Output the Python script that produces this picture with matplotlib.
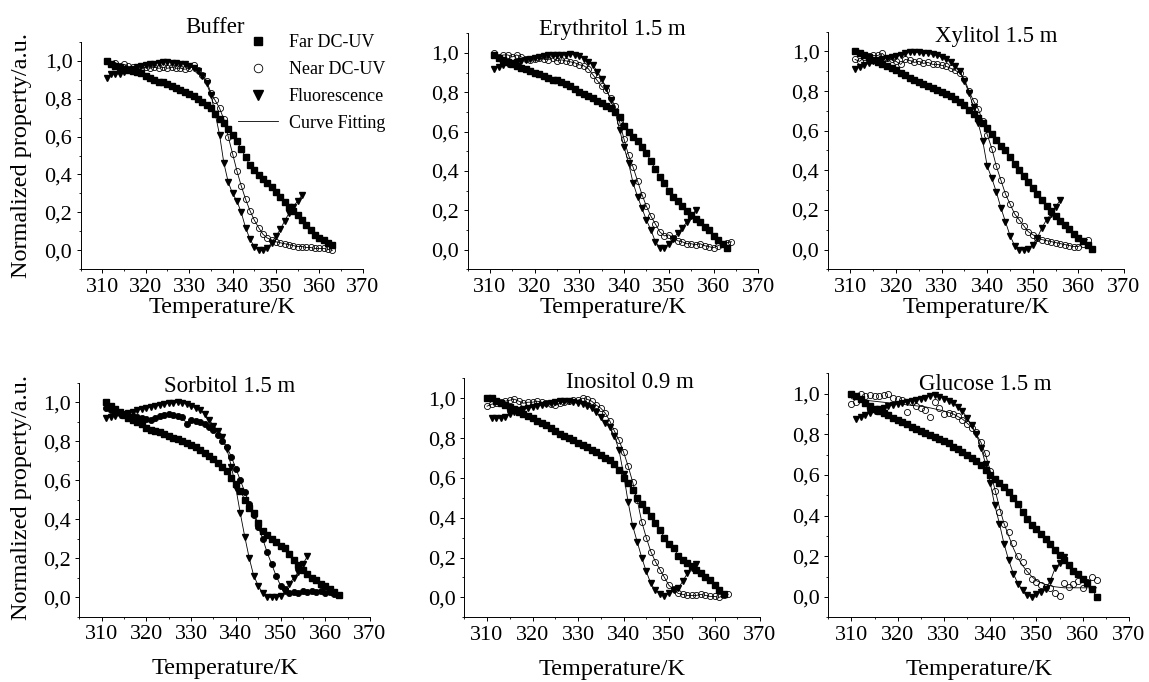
import numpy as np
import matplotlib
matplotlib.use('Agg')
from matplotlib import pyplot as plt
from matplotlib.lines import Line2D
from matplotlib.ticker import MultipleLocator, FuncFormatter

plt.rcParams['font.family'] = ['Liberation Serif', 'DejaVu Serif']

W, H = 1149, 682

titles = ['Buffer', 'Erythritol 1.5 m', 'Xylitol 1.5 m',
          'Sorbitol 1.5 m', 'Inositol 0.9 m', 'Glucose 1.5 m']

# first temperature (K) of each series, values follow in 1 K steps
far_start = [311, 311, 311, 311, 310, 310]
near_start = [311, 311, 311, 311, 310, 310]
fluo_start = [311, 311, 311, 311, 311, 311]

# ---- Buffer
buffer_far = [1.0, 0.98, 0.97, 0.965, 0.955, 0.95, 0.945, 0.94, 0.935, 0.92,
              0.91, 0.90, 0.89, 0.885, 0.875, 0.865, 0.855, 0.845, 0.835, 0.825,
              0.815, 0.80, 0.78, 0.765, 0.75, 0.72, 0.695, 0.67, 0.64, 0.61,
              0.575, 0.535, 0.49, 0.45, 0.425, 0.395, 0.375, 0.355, 0.335, 0.305,
              0.28, 0.255, 0.23, 0.21, 0.185, 0.16, 0.135, 0.105, 0.08, 0.065,
              0.055, 0.04, 0.03]
buffer_near = [1.0, 0.98, 0.99, 0.97, 0.98, 0.97, 0.965, 0.96, 0.96, 0.965,
               0.96, 0.965, 0.96, 0.965, 0.96, 0.965, 0.96, 0.96, 0.955, 0.96,
               0.975, 0.95, 0.925, 0.895, 0.83, 0.79, 0.75, 0.69, 0.60, 0.51,
               0.42, 0.34, 0.27, 0.21, 0.16, 0.12, 0.085, 0.065, 0.055, 0.045,
               0.04, 0.035, 0.03, 0.025, 0.02, 0.02, 0.015, 0.015, 0.01, 0.01,
               0.01, 0.005, 0.0]
buffer_fluo = [0.91, 0.93, 0.93, 0.93, 0.94, 0.95, 0.955, 0.965, 0.97, 0.975,
               0.98, 0.985, 0.99, 0.995, 0.995, 0.99, 0.99, 0.985, 0.98, 0.97,
               0.96, 0.945, 0.92, 0.88, 0.82, 0.72, 0.61, 0.46, 0.36, 0.30,
               0.26, 0.20, 0.12, 0.06, 0.02, 0.0, 0.0, 0.01, 0.04, 0.075,
               0.11, 0.155, 0.195, 0.23, 0.26, 0.29]

# ---- Erythritol 1.5 m
erythritol_far = [0.99, 0.975, 0.965, 0.955, 0.945, 0.935, 0.925, 0.92, 0.91, 0.90,
                  0.895, 0.885, 0.875, 0.865, 0.86, 0.85, 0.84, 0.83, 0.815, 0.80,
                  0.79, 0.78, 0.77, 0.755, 0.745, 0.73, 0.72, 0.70, 0.675, 0.63,
                  0.60, 0.575, 0.55, 0.52, 0.49, 0.45, 0.41, 0.37, 0.34, 0.30,
                  0.27, 0.245, 0.22, 0.195, 0.175, 0.155, 0.14, 0.115, 0.10, 0.07,
                  0.05, 0.03, 0.01]
erythritol_near = [1.0, 0.98, 0.99, 0.99, 0.98, 0.99, 0.98, 0.97, 0.965, 0.97,
                   0.975, 0.97, 0.965, 0.975, 0.96, 0.965, 0.96, 0.955, 0.95, 0.94,
                   0.935, 0.92, 0.89, 0.86, 0.83, 0.81, 0.77, 0.73, 0.65, 0.56,
                   0.48, 0.42, 0.35, 0.28, 0.22, 0.17, 0.13, 0.09, 0.07, 0.075,
                   0.06, 0.045, 0.04, 0.03, 0.03, 0.025, 0.03, 0.02, 0.015, 0.01,
                   0.02, 0.03, 0.035, 0.04]
erythritol_fluo = [0.92, 0.93, 0.94, 0.945, 0.95, 0.955, 0.96, 0.965, 0.97, 0.975,
                   0.98, 0.985, 0.99, 0.99, 0.99, 0.99, 0.99, 0.995, 0.99, 0.985,
                   0.97, 0.955, 0.94, 0.905, 0.87, 0.82, 0.76, 0.70, 0.61, 0.52,
                   0.44, 0.34, 0.27, 0.21, 0.15, 0.10, 0.04, 0.01, 0.01, 0.03,
                   0.055, 0.085, 0.11, 0.14, 0.17, 0.20]

# ---- Xylitol 1.5 m
xylitol_far = [1.0, 0.99, 0.98, 0.97, 0.955, 0.945, 0.935, 0.925, 0.915, 0.905,
               0.89, 0.88, 0.865, 0.855, 0.845, 0.835, 0.825, 0.815, 0.805, 0.795,
               0.785, 0.775, 0.76, 0.745, 0.73, 0.705, 0.685, 0.665, 0.64, 0.615,
               0.585, 0.555, 0.525, 0.50, 0.465, 0.43, 0.40, 0.37, 0.34, 0.31,
               0.28, 0.25, 0.22, 0.195, 0.17, 0.145, 0.125, 0.105, 0.08, 0.06,
               0.045, 0.025, 0.005]
xylitol_near = [0.96, 0.95, 0.97, 0.975, 0.98, 0.98, 0.99, 0.965, 0.96, 0.95,
                0.935, 0.96, 0.955, 0.945, 0.95, 0.94, 0.945, 0.935, 0.935, 0.93,
                0.925, 0.915, 0.905, 0.89, 0.86, 0.80, 0.75, 0.71, 0.65, 0.58,
                0.51, 0.42, 0.35, 0.28, 0.23, 0.18, 0.15, 0.12, 0.09, 0.075,
                0.06, 0.05, 0.045, 0.04, 0.035, 0.03, 0.025, 0.02, 0.015, 0.015,
                0.03, 0.05]
xylitol_fluo = [0.91, 0.92, 0.93, 0.94, 0.95, 0.955, 0.96, 0.965, 0.97, 0.975,
                0.98, 0.99, 0.995, 0.995, 0.995, 0.99, 0.99, 0.985, 0.98, 0.97,
                0.96, 0.945, 0.925, 0.90, 0.85, 0.79, 0.72, 0.64, 0.55, 0.42,
                0.36, 0.29, 0.21, 0.14, 0.07, 0.02, 0.0, 0.0, 0.005, 0.025,
                0.06, 0.11, 0.15, 0.18, 0.215, 0.25]

# ---- Sorbitol 1.5 m
sorbitol_far = [1.0, 0.98, 0.965, 0.95, 0.935, 0.92, 0.91, 0.90, 0.89, 0.87,
                0.86, 0.85, 0.845, 0.835, 0.825, 0.815, 0.81, 0.80, 0.79, 0.78,
                0.77, 0.755, 0.74, 0.725, 0.71, 0.69, 0.67, 0.645, 0.61, 0.58,
                0.545, 0.50, 0.46, 0.43, 0.38, 0.34, 0.32, 0.30, 0.285, 0.265,
                0.25, 0.22, 0.19, 0.165, 0.14, 0.12, 0.10, 0.09, 0.07, 0.055,
                0.04, 0.025, 0.01]
sorbitol_near = [0.97, 0.96, 0.95, 0.945, 0.94, 0.935, 0.93, 0.925, 0.92, 0.915,
                 0.91, 0.92, 0.93, 0.935, 0.94, 0.935, 0.93, 0.925, 0.89, 0.91,
                 0.905, 0.90, 0.89, 0.875, 0.86, 0.83, 0.80, 0.77, 0.72, 0.66,
                 0.60, 0.54, 0.48, 0.42, 0.36, 0.30, 0.23, 0.17, 0.11, 0.06,
                 0.04, 0.02, 0.025, 0.02, 0.03, 0.025, 0.03, 0.025, 0.03, 0.02,
                 0.025, 0.015, 0.01]
sorbitol_fluo = [0.92, 0.925, 0.93, 0.935, 0.94, 0.945, 0.95, 0.96, 0.965, 0.97,
                 0.975, 0.98, 0.985, 0.99, 0.995, 0.995, 1.0, 0.995, 0.99, 0.98,
                 0.97, 0.96, 0.94, 0.91, 0.88, 0.85, 0.82, 0.76, 0.67, 0.56,
                 0.43, 0.31, 0.20, 0.11, 0.06, 0.02, 0.0, 0.0, 0.0, 0.005,
                 0.03, 0.07, 0.10, 0.13, 0.17, 0.21]

# ---- Inositol 0.9 m
inositol_far = [1.0, 1.0, 0.985, 0.975, 0.965, 0.955, 0.945, 0.93, 0.92, 0.91,
                0.90, 0.885, 0.875, 0.865, 0.85, 0.835, 0.82, 0.81, 0.80, 0.79,
                0.775, 0.765, 0.755, 0.74, 0.73, 0.715, 0.70, 0.69, 0.67, 0.64,
                0.60, 0.575, 0.54, 0.50, 0.47, 0.44, 0.41, 0.375, 0.34, 0.30,
                0.27, 0.25, 0.21, 0.19, 0.175, 0.16, 0.14, 0.12, 0.10, 0.085,
                0.06, 0.035, 0.015]
inositol_near = [0.96, 0.97, 0.975, 0.98, 0.985, 0.99, 0.995, 0.985, 0.975, 0.98,
                 0.98, 0.985, 0.98, 0.975, 0.97, 0.965, 0.975, 0.98, 0.985, 0.99,
                 0.99, 1.0, 0.995, 0.985, 0.965, 0.95, 0.925, 0.885, 0.835, 0.79,
                 0.73, 0.66, 0.58, 0.49, 0.38, 0.30, 0.23, 0.18, 0.14, 0.10,
                 0.06, 0.04, 0.02, 0.015, 0.01, 0.01, 0.01, 0.015, 0.01, 0.005,
                 0.005, 0.0, 0.01, 0.015]
inositol_fluo = [0.90, 0.90, 0.90, 0.905, 0.92, 0.93, 0.94, 0.945, 0.95, 0.955,
                 0.96, 0.965, 0.97, 0.975, 0.98, 0.985, 0.985, 0.985, 0.98, 0.975,
                 0.97, 0.96, 0.95, 0.93, 0.905, 0.875, 0.855, 0.81, 0.74, 0.62,
                 0.48, 0.36, 0.28, 0.20, 0.13, 0.07, 0.035, 0.018, 0.005, 0.02,
                 0.035, 0.045, 0.08, 0.12, 0.15, 0.17]

# ---- Glucose 1.5 m
glucose_far = [1.0, 0.99, 0.975, 0.955, 0.94, 0.925, 0.915, 0.905, 0.895, 0.88,
               0.87, 0.86, 0.85, 0.835, 0.825, 0.815, 0.805, 0.795, 0.785, 0.775,
               0.765, 0.755, 0.74, 0.73, 0.715, 0.70, 0.685, 0.67, 0.65, 0.625,
               0.60, 0.58, 0.56, 0.54, 0.515, 0.485, 0.455, 0.42, 0.385, 0.355,
               0.335, 0.31, 0.285, 0.26, 0.23, 0.205, 0.18, 0.155, 0.13, 0.115,
               0.09, 0.07, 0.04, 0.0]
glucose_near = [0.95, 0.96, 1.0, 0.99, 0.995, 0.99, 0.99, 0.995, 1.0, 0.98,
                0.975, 0.97, 0.91, 0.96, 0.94, 0.93, 0.92, 0.885, 0.96, 0.93,
                0.90, 0.905, 0.90, 0.89, 0.87, 0.85, 0.83, 0.81, 0.76, 0.71,
                0.62, 0.52, 0.42, 0.36, 0.32, 0.265, 0.20, 0.17, 0.13, 0.09,
                0.075, 0.06, 0.05, 0.045, 0.02, 0.005, 0.07, 0.05, 0.065, 0.08,
                0.045, 0.075, 0.10, 0.085]
glucose_fluo = [0.875, 0.885, 0.895, 0.905, 0.915, 0.925, 0.93, 0.94, 0.945, 0.95,
                0.955, 0.96, 0.965, 0.97, 0.975, 0.98, 0.99, 0.995, 0.985, 0.975,
                0.965, 0.955, 0.935, 0.915, 0.88, 0.845, 0.80, 0.735, 0.655, 0.56,
                0.45, 0.36, 0.26, 0.18, 0.115, 0.065, 0.035, 0.01, 0.0, 0.015,
                0.025, 0.04, 0.08, 0.14, 0.165, 0.195]
# smooth fitted curve for the noisy glucose near-UV data
glucose_near_fit_t = [310, 312, 314, 316, 318, 320, 322, 324, 326, 328, 330, 332, 334,
                      336, 337, 338, 339, 340, 341, 342, 343, 344, 345, 346, 347,
                      348, 349, 350, 352, 354, 356, 358, 360, 363]
glucose_near_fit = [0.975, 0.97, 0.965, 0.96, 0.955, 0.95, 0.945, 0.94, 0.935, 0.925,
                    0.915, 0.90, 0.875, 0.835, 0.80, 0.76, 0.70, 0.62, 0.53, 0.44,
                    0.36, 0.30, 0.24, 0.19, 0.155, 0.125, 0.10, 0.08, 0.06, 0.05,
                    0.045, 0.045, 0.045, 0.045]

far_all = [buffer_far, erythritol_far, xylitol_far, sorbitol_far, inositol_far, glucose_far]
near_all = [buffer_near, erythritol_near, xylitol_near, sorbitol_near, inositol_near, glucose_near]
fluo_all = [buffer_fluo, erythritol_fluo, xylitol_fluo, sorbitol_fluo, inositol_fluo, glucose_fluo]

# axes boxes in pixels: left, right, top, bottom
boxes = [(80.7, 362.7, 41.7, 269.3), (467.5, 758.3, 33.3, 269.3), (827.7, 1124, 31.7, 269.3),
         (79.3, 370, 382.7, 616.7), (464.3, 760, 378.3, 617.3), (828.3, 1129, 373.3, 617.3)]
# title centre x and baseline y in pixels
title_pos = [(215, 33), (612.5, 35), (995.8, 41.7), (230, 391.7), (630, 388.3), (985, 390)]


def comma_fmt(v, pos):
    return f'{v:.1f}'.replace('.', ',')


def temps(start, vals):
    return np.arange(start, start + len(vals))


fig = plt.figure(figsize=(W / 100, H / 100), dpi=100)

for i in range(6):
    l, r, t, b = boxes[i]
    ax = fig.add_axes([l / W, 1 - b / H, (r - l) / W, (b - t) / H])

    tf = temps(far_start[i], far_all[i])
    tn = temps(near_start[i], near_all[i])
    tl = temps(fluo_start[i], fluo_all[i])

    # fitted curves
    ax.plot(tf, far_all[i], color='black', lw=0.6, zorder=1)
    if i == 5:
        ax.plot(glucose_near_fit_t, glucose_near_fit, color='black', lw=0.6, zorder=1)
    else:
        ax.plot(tn, near_all[i], color='black', lw=0.6, zorder=1)
    ax.plot(tl, fluo_all[i], color='black', lw=0.6, zorder=1)

    ax.plot(tf, far_all[i], ls='none', marker='s', ms=4.3, color='black', zorder=3)
    near_face = 'black' if i == 3 else 'none'
    ax.plot(tn, near_all[i], ls='none', marker='o', ms=4.4, mfc=near_face,
            mec='black', mew=0.6, zorder=3)
    ax.plot(tl, fluo_all[i], ls='none', marker='v', ms=4.7, color='black', zorder=2)

    ax.set_xlim(305, 370)
    ax.set_ylim(-0.1, 1.1)
    ax.xaxis.set_major_locator(MultipleLocator(10))
    ax.xaxis.set_minor_locator(MultipleLocator(5))
    ax.yaxis.set_major_locator(MultipleLocator(0.2))
    ax.yaxis.set_minor_locator(MultipleLocator(0.1))
    ax.yaxis.set_major_formatter(FuncFormatter(comma_fmt))
    ax.tick_params(which='major', direction='out', length=3, width=0.7, labelsize=16, pad=3)
    ax.tick_params(which='minor', direction='out', length=1.6, width=0.6)
    for s in ['top', 'right']:
        ax.spines[s].set_visible(False)
    for s in ['left', 'bottom']:
        ax.spines[s].set_linewidth(0.7)
    ax.patch.set_alpha(0)

    ax.set_xlabel('Temperature/K', fontsize=17.5, labelpad=0 if i < 3 else 10)

    tx, ty = title_pos[i]
    fig.text(tx / W, 1 - ty / H, titles[i], fontsize=16.5, ha='center', va='baseline')

# y labels on the left column
fig.text(22 / W, 1 - 155 / H, 'Normalized property/a.u.', rotation=90,
         fontsize=17.5, ha='center', va='center')
fig.text(22 / W, 1 - 497 / H, 'Normalized property/a.u.', rotation=90,
         fontsize=17.5, ha='center', va='center')

handles = [Line2D([], [], ls='none', marker='s', ms=4.3, color='black'),
           Line2D([], [], ls='none', marker='o', ms=4.4, mfc='none', mec='black', mew=0.6),
           Line2D([], [], ls='none', marker='v', ms=4.7, color='black'),
           Line2D([], [], color='black', lw=0.6)]
labels = ['Far DC-UV', 'Near DC-UV', 'Fluorescence', 'Curve Fitting']
fig.legend(handles, labels, loc='upper left', bbox_to_anchor=(238 / W, 1 - 34 / H),
           frameon=False, fontsize=13, markerscale=1.4, borderpad=0, borderaxespad=0,
           handlelength=2.2, handletextpad=0.6, labelspacing=0.55)

fig.savefig('out.png', dpi=100)
